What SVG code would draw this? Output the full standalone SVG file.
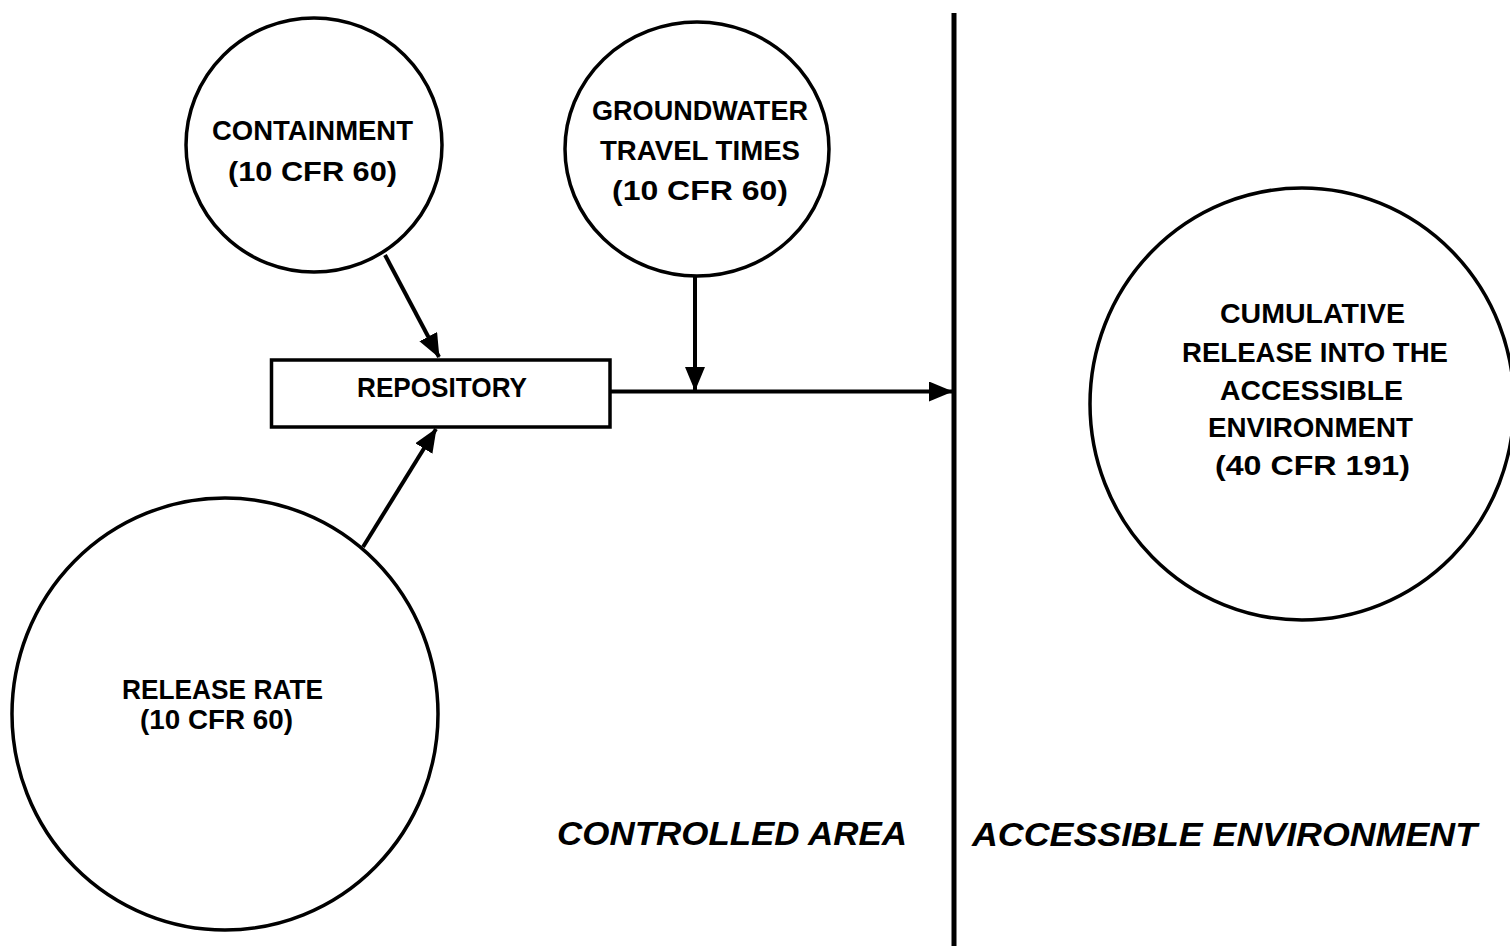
<svg xmlns="http://www.w3.org/2000/svg" width="1510" height="946" viewBox="0 0 1510 946">
  <style>
    .node { fill: #ffffff; stroke: #000000; stroke-width: 3.5; }
    .lbl { font-family: "Liberation Sans", Arial, sans-serif; font-weight: bold; font-size: 28px; fill: #000000; }
    .area { font-family: "Liberation Sans", Arial, sans-serif; font-weight: bold; font-style: italic; font-size: 34px; fill: #000000; }
    .conn { fill: none; stroke: #000000; stroke-width: 4; }
  </style>
  <defs>
    <marker id="arrow" markerUnits="userSpaceOnUse" markerWidth="24" markerHeight="20" refX="23" refY="10" orient="auto">
      <path d="M0,0 L24,10 L0,20 Z" fill="#000000"/>
    </marker>
  </defs>
  <rect x="0" y="0" width="1510" height="946" fill="#ffffff"/>

  <g id="boundary">
    <line x1="954" y1="13" x2="954" y2="946" stroke="#000000" stroke-width="5"/>
  </g>

  <g id="connectors">
    <line class="conn" x1="385" y1="255" x2="439" y2="357" marker-end="url(#arrow)"/>
    <line class="conn" x1="363" y1="547" x2="436" y2="429" marker-end="url(#arrow)"/>
    <line class="conn" x1="695" y1="276" x2="695" y2="390" marker-end="url(#arrow)"/>
    <line class="conn" x1="610" y1="391.5" x2="952" y2="391.5" marker-end="url(#arrow)"/>
  </g>

  <g id="containment">
    <ellipse class="node" cx="314" cy="145" rx="128" ry="127"/>
    <text class="lbl" x="212" y="140" textLength="201" lengthAdjust="spacingAndGlyphs">CONTAINMENT</text>
    <text class="lbl" x="228" y="181" textLength="169" lengthAdjust="spacingAndGlyphs">(10 CFR 60)</text>
  </g>

  <g id="groundwater">
    <ellipse class="node" cx="697" cy="149" rx="132" ry="127"/>
    <text class="lbl" x="592" y="120" textLength="216" lengthAdjust="spacingAndGlyphs">GROUNDWATER</text>
    <text class="lbl" x="600" y="160" textLength="200" lengthAdjust="spacingAndGlyphs">TRAVEL TIMES</text>
    <text class="lbl" x="612" y="200" textLength="176" lengthAdjust="spacingAndGlyphs">(10 CFR 60)</text>
  </g>

  <g id="repository">
    <rect class="node" x="271.5" y="360" width="338.5" height="67"/>
    <text class="lbl" x="357" y="397" textLength="170" lengthAdjust="spacingAndGlyphs">REPOSITORY</text>
  </g>

  <g id="release-rate">
    <ellipse class="node" cx="225" cy="714" rx="213" ry="216"/>
    <text class="lbl" x="122" y="699" textLength="201" lengthAdjust="spacingAndGlyphs">RELEASE RATE</text>
    <text class="lbl" x="140" y="729" textLength="153" lengthAdjust="spacingAndGlyphs">(10 CFR 60)</text>
  </g>

  <g id="cumulative-release">
    <ellipse class="node" cx="1302" cy="404" rx="212" ry="216"/>
    <text class="lbl" x="1220" y="323" textLength="185" lengthAdjust="spacingAndGlyphs">CUMULATIVE</text>
    <text class="lbl" x="1182" y="362" textLength="266" lengthAdjust="spacingAndGlyphs">RELEASE INTO THE</text>
    <text class="lbl" x="1220" y="400" textLength="183" lengthAdjust="spacingAndGlyphs">ACCESSIBLE</text>
    <text class="lbl" x="1208" y="437" textLength="205" lengthAdjust="spacingAndGlyphs">ENVIRONMENT</text>
    <text class="lbl" x="1215" y="475" textLength="195" lengthAdjust="spacingAndGlyphs">(40 CFR 191)</text>
  </g>

  <g id="area-labels">
    <text class="area" x="557" y="845" textLength="350" lengthAdjust="spacingAndGlyphs">CONTROLLED AREA</text>
    <text class="area" x="972" y="846" textLength="505" lengthAdjust="spacingAndGlyphs">ACCESSIBLE ENVIRONMENT</text>
  </g>
</svg>
